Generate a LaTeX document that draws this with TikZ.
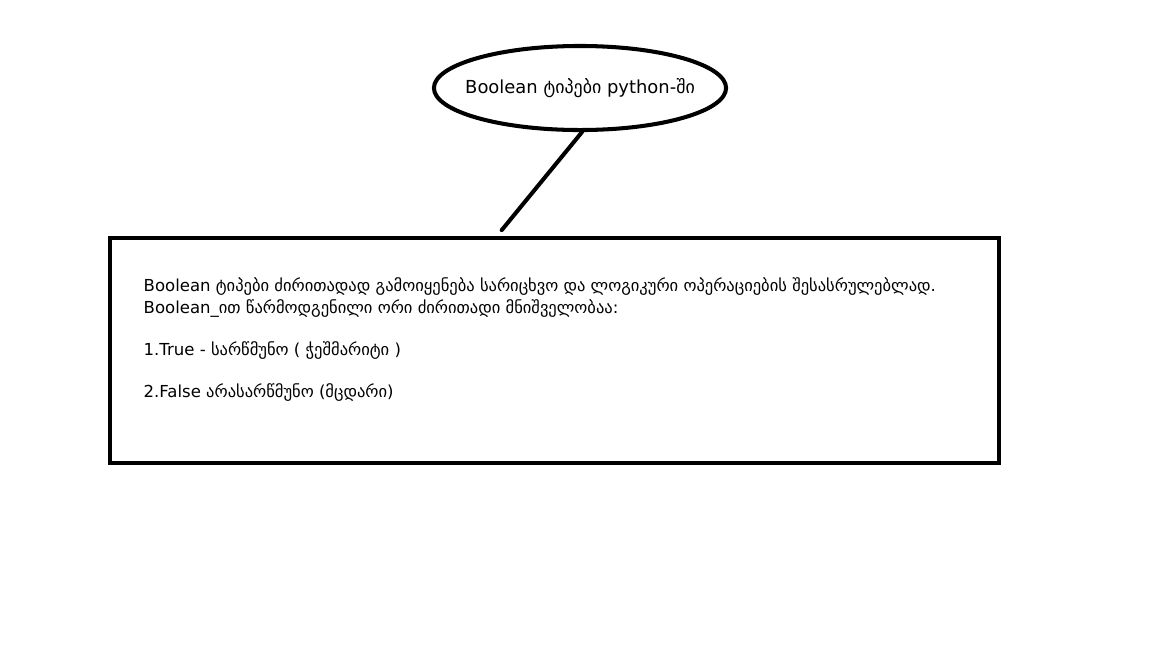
\documentclass[tikz,border=0pt]{standalone}
\usepackage{fontspec}
\setmainfont{DejaVu Sans}
\usetikzlibrary{shapes.geometric}
\usetikzlibrary{positioning}

\begin{document}
\begin{tikzpicture}[x=0.01cm,y=-0.01cm]%
    \useasboundingbox (0,0) rectangle (1152,648);
    \tikzstyle{every node}=[font=\fontsize{4.7pt}{5.5pt}\selectfont];%%
    \tikzstyle{txt}=[anchor=base west,inner sep=0pt];%%
    \node[draw,ellipse,line width=1.15pt,minimum width=2.92cm,minimum height=0.84cm,inner sep=0pt,
          font=\fontsize{5.1pt}{6pt}\selectfont] (title) at (580,88) {\makebox[0pt]{Boolean ტიპები python-ში}}; %%
    \node[draw,rectangle,line width=1.15pt,minimum width=8.89cm,minimum height=2.25cm,inner sep=0pt] (box) at (554.5,350.5) {}; %%
    \node[txt] (l1) at (143,291) {Boolean ტიპები ძირითადად გამოიყენება სარიცხვო და ლოგიკური ოპერაციების შესასრულებლად.}; %%
    \node[txt] (l2) at (143,313) {Boolean\_ით წარმოდგენილი ორი ძირითადი მნიშველობაა:}; %%
    \node[txt] (l3) at (143,355) {1.True - სარწმუნო ( ჭეშმარიტი )}; %%
    \node[txt] (l4) at (143,397) {2.False არასარწმუნო (მცდარი)}; %%
    \draw[line width=1.15pt,line cap=round,shorten >=0.75mm] ([xshift=0.2mm]title.south) -- ([xshift=-5.75mm]box.north); %%
\end{tikzpicture}
\end{document}
